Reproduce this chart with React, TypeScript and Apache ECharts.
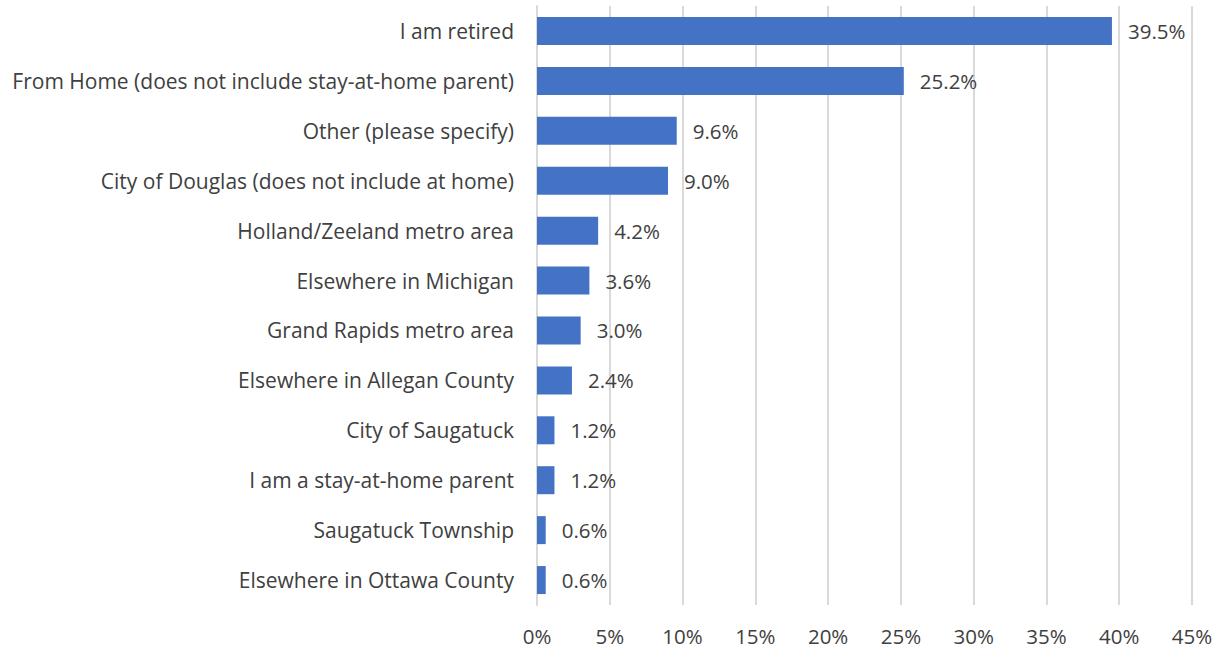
import React, { useEffect, useRef } from "react";
import * as echarts from "echarts";

const categories = [
  "I am retired",
  "From Home (does not include stay-at-home parent)",
  "Other (please specify)",
  "City of Douglas (does not include at home)",
  "Holland/Zeeland metro area",
  "Elsewhere in Michigan",
  "Grand Rapids metro area",
  "Elsewhere in Allegan County",
  "City of Saugatuck",
  "I am a stay-at-home parent",
  "Saugatuck Township",
  "Elsewhere in Ottawa County",
];
const values = [39.5, 25.2, 9.6, 9.0, 4.2, 3.6, 3.0, 2.4, 1.2, 1.2, 0.6, 0.6];
const xMax = 45;
const xInterval = 5;

const FONT = "'Open Sans', sans-serif";
const TEXT = "#404040";

export default function App() {
  const ref = useRef<HTMLDivElement>(null);
  useEffect(() => {
    if (!ref.current) return;
    const chart = echarts.init(ref.current, undefined, { renderer: "svg" });
    chart.setOption({
      animation: false,
      grid: { left: 537, right: 28, top: 6, bottom: 44, containLabel: false },
      xAxis: {
        type: "value",
        min: 0,
        max: xMax,
        interval: xInterval,
        axisLine: { show: false },
        axisTick: { show: false },
        splitLine: { show: true, lineStyle: { color: "#d9d9d9", width: 2 } },
        axisLabel: {
          formatter: (v: number) => `${v}%`,
          color: TEXT,
          fontFamily: FONT,
          fontSize: 20.5,
          margin: 20,
        },
      },
      yAxis: {
        type: "category",
        data: categories,
        inverse: true,
        axisLine: { show: true, lineStyle: { color: "#d9d9d9", width: 2 } },
        axisTick: { show: false },
        axisLabel: {
          color: TEXT,
          fontFamily: FONT,
          fontSize: 21,
          margin: 23,
        },
      },
      series: [
        {
          type: "bar",
          data: values,
          barWidth: 28,
          itemStyle: { color: "#4472C4" },
          label: {
            show: true,
            position: "right",
            distance: 16,
            formatter: (p: any) => `${Number(p.value).toFixed(1)}%`,
            color: TEXT,
            fontFamily: FONT,
            fontSize: 20.5,
          },
        },
      ],
    });
    return () => chart.dispose();
  }, []);
  return (
    <div
      ref={ref}
      style={{ position: "fixed", left: 0, top: 0, width: 1220, height: 649, background: "#fff" }}
    />
  );
}
